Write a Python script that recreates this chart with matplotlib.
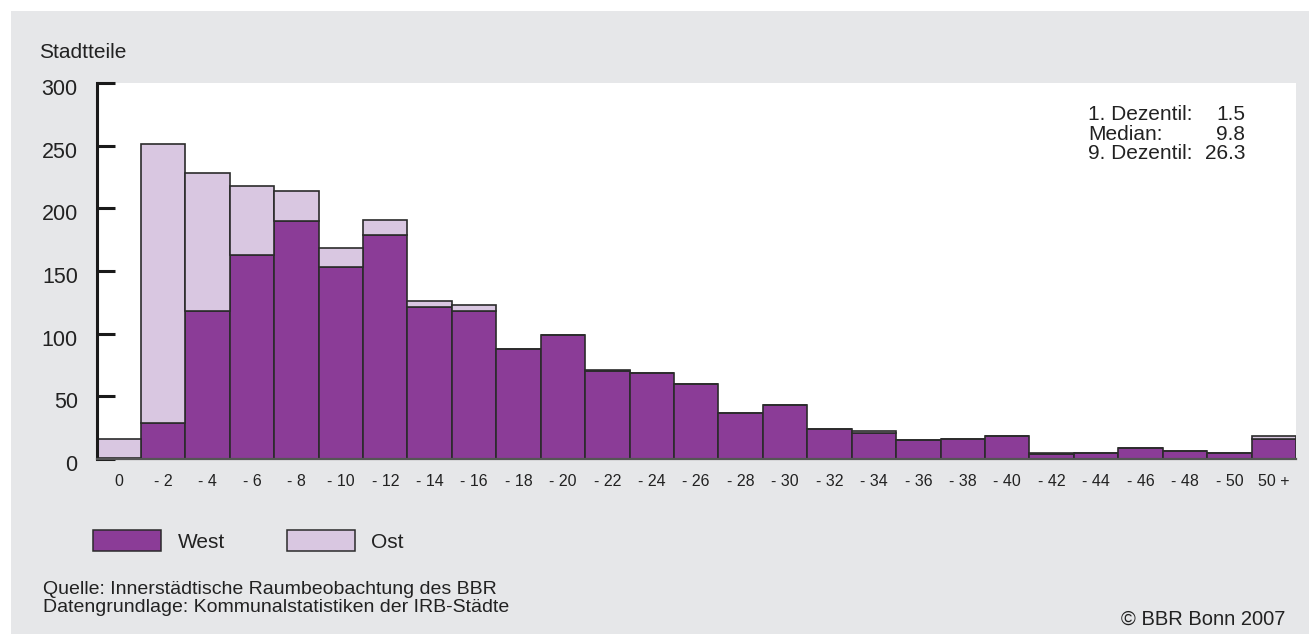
import numpy as np
import matplotlib.pyplot as plt
from matplotlib.patches import Rectangle, Patch
from matplotlib.transforms import ScaledTranslation

# ------------------------------------------------------------
# data (number of Stadtteile per class)
# ------------------------------------------------------------
classes = ["0", "- 2", "- 4", "- 6", "- 8", "- 10", "- 12", "- 14", "- 16",
           "- 18", "- 20", "- 22", "- 24", "- 26", "- 28", "- 30", "- 32",
           "- 34", "- 36", "- 38", "- 40", "- 42", "- 44", "- 46", "- 48",
           "- 50", "50 +"]

west = [1, 29, 118, 163, 190, 153, 179, 121, 118,
        88, 99, 70, 69, 60, 37, 43, 24,
        21, 15, 16, 18, 4, 5, 9, 6,
        5, 16]

ost = [15, 222, 110, 55, 24, 15, 12, 5, 5,
       0, 0, 1, 0, 0, 0, 0, 0,
       1, 0, 0, 0, 1, 0, 0, 0,
       0, 2]

y_ticks = [0, 50, 100, 150, 200, 250, 300]

stats_labels = ["1. Dezentil:", "Median:", "9. Dezentil:"]
stats_values = ["1.5", "9.8", "26.3"]

WEST_COLOR = "#8b3c97"
OST_COLOR = "#d9c7e1"
BG_GRAY = "#e6e7e9"
EDGE = "#2b2b2b"
TEXT = "#222222"

plt.rcParams["font.family"] = ["Liberation Sans", "DejaVu Sans"]

W, H = 1309, 634
fig = plt.figure(figsize=(W / 100, H / 100), dpi=100)
fig.patch.set_facecolor("white")

# gray panel behind everything
fig.patches.append(Rectangle((11 / W, 0), 1 - 11 / W, 1 - 11 / H,
                             transform=fig.transFigure, facecolor=BG_GRAY,
                             edgecolor="none", zorder=-10))

ax = fig.add_axes([96.5 / W, (H - 459) / H, 1199.5 / W, 376 / H])
ax.set_facecolor("white")

x = np.arange(len(classes)) + 0.5
ax.bar(x, west, width=1.0, color=WEST_COLOR, edgecolor=EDGE, linewidth=1.2)
ax.bar(x, ost, width=1.0, bottom=west, color=OST_COLOR, edgecolor=EDGE,
       linewidth=1.2)

ax.set_xlim(0, len(classes))
ax.set_ylim(0, 300)

for side in ["top", "right"]:
    ax.spines[side].set_visible(False)
ax.spines["left"].set_linewidth(2.2)
ax.spines["left"].set_color("#1a1a1a")
ax.spines["bottom"].set_linewidth(1.6)
ax.spines["bottom"].set_color("#555555")

ax.set_yticks(y_ticks)
ax.tick_params(axis="y", direction="in", length=13, width=2.2,
               color="#1a1a1a", labelsize=15.5, labelcolor=TEXT, pad=13.5)
for lab in ax.get_yticklabels():
    lab.set_transform(lab.get_transform()
                      + ScaledTranslation(0, -4 / 100, fig.dpi_scale_trans))

ax.set_xticks(x)
ax.set_xticklabels(classes)
ax.tick_params(axis="x", length=0, labelsize=11.5, labelcolor=TEXT, pad=11)

# texts
fig.text(39 / W, 1 - 53 / H, "Stadtteile", fontsize=15, color=TEXT,
         ha="left", va="center")

line_y = [115, 134, 153]
for lbl, val, yy in zip(stats_labels, stats_values, line_y):
    fig.text(1088 / W, 1 - yy / H, lbl, fontsize=15, color=TEXT,
             ha="left", va="center")
    fig.text(1245 / W, 1 - yy / H, val, fontsize=15, color=TEXT,
             ha="right", va="center")

# legend
handles = [Patch(facecolor=WEST_COLOR, edgecolor=EDGE, linewidth=1.1),
           Patch(facecolor=OST_COLOR, edgecolor=EDGE, linewidth=1.1)]
fig.legend(handles, ["West", "Ost"], loc="center left",
           bbox_to_anchor=(93 / W, 1 - 541 / H), ncol=2, frameon=False,
           fontsize=15, handlelength=3.27, handleheight=1.15,
           handletextpad=0.8, columnspacing=2.95, borderpad=0,
           borderaxespad=0, labelcolor=TEXT)

fig.text(43 / W, 1 - 590 / H, "Quelle: Innerstädtische Raumbeobachtung des BBR",
         fontsize=14, color=TEXT, ha="left", va="center")
fig.text(43 / W, 1 - 607 / H, "Datengrundlage: Kommunalstatistiken der IRB-Städte",
         fontsize=14, color=TEXT, ha="left", va="center")
fig.text(1285 / W, 1 - 619 / H, "© BBR Bonn 2007", fontsize=14.5, color=TEXT,
         ha="right", va="center")

fig.savefig("out.png", dpi=100, facecolor=fig.get_facecolor())
